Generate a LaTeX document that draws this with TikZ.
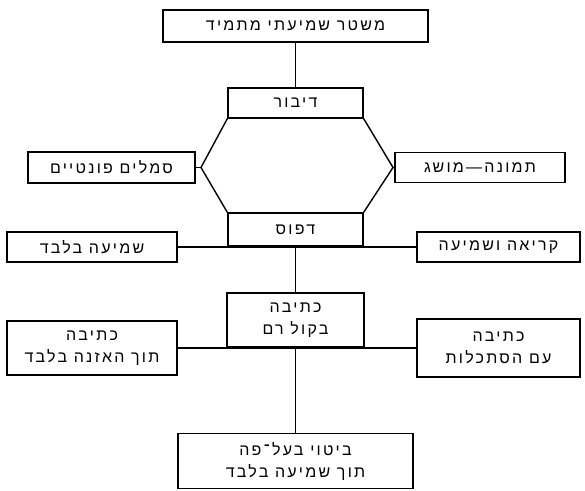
\documentclass[tikz,border=0pt]{standalone}
\usepackage{fontspec}
\setmainfont{Liberation Sans}
\newfontfamily\hebfont[Script=Hebrew,LetterSpace=14]{Liberation Sans}
\TeXXeTstate=1
\newcommand{\heb}[1]{\beginR #1\endR}
\usetikzlibrary{positioning}

\begin{document}
\begin{tikzpicture}[x=1pt,y=-1pt,line width=1.4pt,
  box/.style={draw,inner sep=0pt,font=\hebfont\fontsize{16}{22}\selectfont,align=center}]
\useasboundingbox (0,0) rectangle (585,490);
% upper part
\node[box,minimum width=265pt,minimum height=32pt] (mishtar) at (295.5,26) {\heb{משטר שמיעתי מתמיד}};
\node[box,minimum width=135pt,minimum height=30pt] (dibur) at (295.5,103) {\heb{דיבור}};
\node[box,minimum width=167pt,minimum height=31pt] (smalim) at (111.5,167.5) {\heb{סמלים פונטיים}};
\node[box,minimum width=170pt,minimum height=30pt] (tmuna) at (480,167.5) {\heb{תמונה—מושג}};
\node[box,minimum width=135pt,minimum height=33pt] (dfus) at (295.5,229.5) {\heb{דפוס}};
\coordinate (hexL) at (201,167.5);
\coordinate (hexR) at (393,167.5);
\draw (mishtar) -- (dibur);
\draw (dibur.south west) -- (hexL) -- (dfus.north west);
\draw (dibur.south east) -- (hexR) -- (dfus.north east);
\draw (smalim) -- (hexL);
\draw (tmuna) -- (hexR);
% middle row
\node[box,minimum width=170pt,minimum height=30pt] (shmia) at (92,247) {\heb{שמיעה בלבד}};
\node[box,minimum width=163pt,minimum height=30pt] (kria) at (498.5,247) {\heb{קריאה ושמיעה}};
\draw (shmia) -- (kria);
\node[box,minimum width=137pt,minimum height=54pt] (ktiva) at (295.5,320) {\heb{כתיבה}\\\heb{בקול רם}};
\draw (dfus) -- (ktiva);
% lower part
\node[box,minimum width=170pt,minimum height=54pt] (haazana) at (92,348) {\heb{כתיבה}\\\heb{תוך האזנה בלבד}};
\node[box,minimum width=163pt,minimum height=58pt] (histaklut) at (498.5,348) {\heb{כתיבה}\\\heb{עם הסתכלות}};
\draw (haazana) -- (histaklut);
\node[box,minimum width=235pt,minimum height=55pt] (bitui) at (295.5,461) {\heb{ביטוי בעל־פה}\\\heb{תוך שמיעה בלבד}};
\draw (ktiva) -- (bitui);
\end{tikzpicture}
\end{document}
